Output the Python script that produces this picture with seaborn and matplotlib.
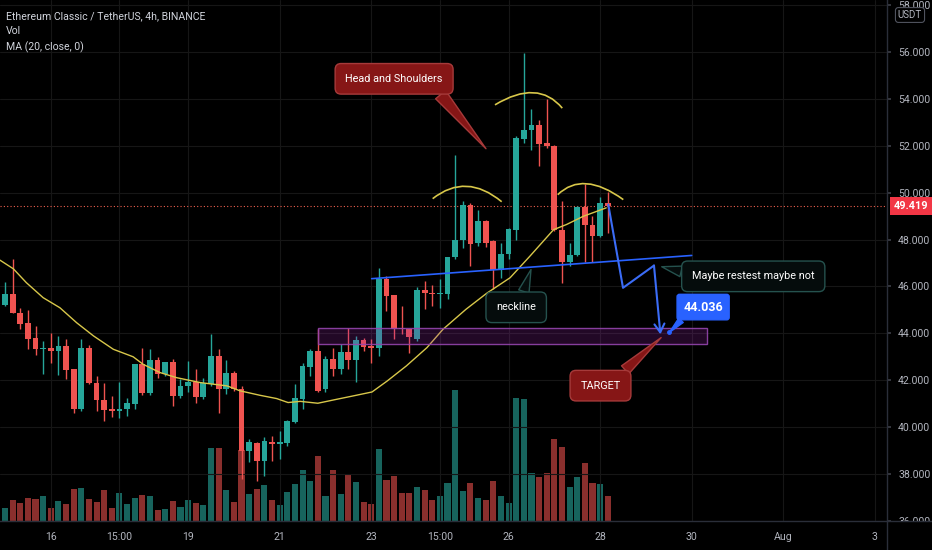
import numpy as np
import pandas as pd
import matplotlib
matplotlib.use("Agg")
import matplotlib.pyplot as plt
import matplotlib.transforms as mtransforms
from matplotlib.patches import PathPatch, Rectangle
from matplotlib.path import Path
import seaborn as sns

# ========= Data (4h candles, index 0 = first full candle on the left) =========
candle_idx = list(range(-1, 80))
opens = [46.65, 45.21, 45.66, 44.88, 44.45, 43.80, 43.32, 43.39, 43.23, 43.46,
         42.50, 40.77, 43.39, 41.90, 41.15, 40.77, 40.67, 40.77, 40.98, 42.71,
         41.45, 42.87, 42.26, 42.78, 41.33, 41.76, 41.93, 41.29, 41.83, 43.04,
         41.62, 42.30, 41.62, 38.99, 39.32, 38.57, 39.38, 39.29, 39.32, 40.20,
         41.22, 42.58, 43.25, 41.62, 42.92, 42.50, 43.21, 42.87, 43.70, 43.46,
         43.39, 46.30, 45.62, 44.24, 44.20, 43.77, 45.84, 45.73, 45.66, 45.66,
         47.26, 48.00, 49.46, 47.83, 48.81, 47.93, 46.69, 47.39, 48.42, 52.28,
         52.68, 52.89, 52.11, 52.00, 48.42, 47.03, 47.36, 49.39, 48.60, 48.14,
         49.56]
highs = [46.90, 46.18, 47.19, 45.09, 44.98, 44.31, 43.67, 44.03, 43.89, 43.77,
         42.50, 43.77, 43.49, 42.18, 41.90, 41.33, 41.94, 41.26, 42.68, 43.39,
         43.35, 43.01, 42.78, 42.92, 42.04, 42.81, 42.47, 42.11, 43.96, 43.32,
         42.87, 42.40, 41.75, 39.49, 39.35, 39.56, 39.63, 39.84, 40.30, 41.83,
         42.75, 43.32, 44.17, 43.04, 43.39, 43.53, 44.24, 43.89, 43.82, 43.75,
         46.80, 46.44, 45.62, 45.16, 44.20, 45.99, 46.23, 46.08, 46.30, 47.26,
         51.62, 49.63, 49.56, 49.27, 48.85, 48.00, 47.86, 48.50, 52.40, 55.97,
         53.56, 53.11, 53.99, 52.04, 49.63, 47.86, 49.42, 50.38, 48.99, 49.82,
         50.01]
lows = [45.10, 45.16, 44.85, 44.17, 43.32, 43.06, 42.26, 42.75, 42.21, 42.07,
        40.62, 40.70, 41.83, 40.70, 40.27, 40.45, 40.37, 40.48, 40.77, 41.36,
        41.36, 42.11, 42.18, 40.91, 41.25, 41.48, 41.01, 41.22, 41.76, 40.60,
        41.40, 41.55, 37.80, 38.50, 37.72, 37.93, 38.57, 38.64, 39.20, 40.17,
        40.77, 42.18, 41.48, 41.48, 42.18, 42.26, 42.47, 41.94, 43.25, 42.75,
        43.04, 44.95, 43.75, 43.96, 43.18, 43.68, 45.02, 45.16, 45.09, 45.45,
        47.15, 47.64, 46.86, 47.72, 47.69, 45.87, 46.37, 47.15, 48.00, 52.11,
        51.83, 51.15, 51.90, 48.35, 46.16, 46.86, 47.29, 47.03, 47.03, 48.11,
        48.28]
closes = [45.20, 45.66, 44.88, 44.38, 43.74, 43.32, 43.38, 43.25, 43.46, 42.44,
          40.77, 43.39, 41.90, 41.15, 40.74, 40.67, 40.77, 41.02, 42.68, 41.45,
          42.87, 42.26, 42.78, 41.33, 41.76, 41.93, 41.29, 41.87, 43.04, 41.62,
          42.30, 41.62, 38.98, 39.35, 38.57, 39.42, 39.29, 39.38, 40.27, 41.26,
          42.60, 43.25, 41.55, 42.92, 42.50, 43.21, 42.87, 43.70, 43.43, 43.39,
          46.33, 45.59, 44.20, 44.17, 43.85, 45.84, 45.70, 45.66, 45.70, 47.26,
          48.00, 49.46, 47.79, 48.81, 47.83, 46.72, 47.39, 48.45, 52.33, 52.65,
          52.86, 52.08, 51.97, 48.40, 47.03, 47.36, 49.39, 48.61, 48.14, 49.56,
          49.42]
volume_k = [21.7, 12.7, 21.0, 18.3, 23.3, 22.3, 25.0, 13.3, 20.0, 16.7,
            31.7, 32.7, 22.0, 19.3, 30.7, 13.3, 27.7, 16.7, 22.7, 26.0,
            25.0, 10.7, 12.3, 20.0, 14.3, 21.0, 18.3, 15.7, 72.7, 72.7,
            30.7, 19.3, 71.0, 27.3, 32.3, 36.0, 21.0, 16.0, 29.3, 37.3,
            50.7, 40.0, 65.0, 25.0, 50.7, 27.3, 46.7, 39.3, 19.3, 16.7,
            71.7, 41.0, 45.0, 28.3, 28.3, 34.3, 31.0, 21.0, 25.0, 38.3,
            131.0, 30.0, 38.3, 22.7, 21.0, 40.0, 25.0, 18.3, 123.0, 122.0,
            48.3, 44.0, 47.7, 82.3, 74.3, 34.3, 44.3, 58.3, 38.3, 36.7,
            25.0]

# MA(20, close)
ma_idx = [-0.66, 1.1, 2.8, 5.0, 7.2, 9.4, 11.6, 14.2, 16.8, 18.1, 20.3, 22.5,
          25.6, 29.1, 30.8, 33.4, 35.6, 37.1, 38.7, 41.0, 43.5, 45.6, 48.1,
          50.1, 52.6, 55.3, 57.4, 60.4, 63.1, 66.2, 68.8, 71.9, 73.6, 75.8, 78.8]
ma_val = [47.12, 46.75, 46.16, 45.52, 45.09, 44.45, 43.89, 43.32, 43.00, 42.68,
          42.33, 42.11, 41.90, 41.76, 41.55, 41.36, 41.22, 41.05, 41.10, 41.02,
          41.19, 41.33, 41.50, 41.97, 42.61, 43.39, 44.17, 45.02, 45.70, 46.37,
          47.29, 48.42, 48.64, 48.99, 49.35]

last_price = 49.419
target_price = 44.036

price_ticks = list(range(36, 60, 2))
date_tick_pos = [6, 15, 24, 36, 48, 57, 66, 78, 90, 102, 114]
date_tick_labels = ["16", "15:00", "19", "21", "23", "15:00", "26", "28", "30", "Aug", "3"]

# drawings (index, price)
zone = (41.0, 92.0, 43.56, 44.21)
neckline = ([48.06, 90.0], [46.33, 47.32])
path_x = [79.07, 81.0, 85.06]
path_y = [49.49, 45.94, 46.89]
path_end = (85.9, 43.96)
arcs = [((56.05, 49.74), (60.51, 50.27), (65.1, 49.61)),
        ((64.22, 53.74), (69.24, 54.26), (73.04, 53.60)),
        ((72.44, 49.91), (76.24, 50.38), (81.04, 49.70))]

# ========= Style =========
BG = "#000000"
GREEN = "#26a69a"
RED = "#ef5350"
TXT = "#b2b5be"
GRID = "#161616"
BORDER = "#2a2e39"
BLUE = "#2962ff"

sns.set_theme(style="dark", rc={"axes.facecolor": BG, "figure.facecolor": BG})
plt.rcParams["font.family"] = ["Roboto", "DejaVu Sans"]

df = pd.DataFrame({"idx": candle_idx, "open": opens, "high": highs,
                   "low": lows, "close": closes, "vol": volume_k})
df["up"] = df["close"] >= df["open"]
df["color"] = np.where(df["up"], GREEN, RED)

fig = plt.figure(figsize=(9.32, 5.5), dpi=100, facecolor=BG)
rect = [0, 29 / 550, 887 / 932, 521 / 550]
vol_ax = fig.add_axes(rect)
ax = fig.add_axes(rect, sharex=vol_ax)
ax.patch.set_alpha(0)
vol_ax.set_facecolor(BG)

# ========= Volume =========
vol_colors = np.where(df["up"], "#17645d", "#8a2f2d")
vol_ax.bar(df["idx"], df["vol"], width=0.8, color=vol_colors, linewidth=0)
vol_ax.set_ylim(0, 521)
vol_ax.set_yticks([])
vol_ax.tick_params(axis="x", bottom=False, labelbottom=False)
for s in vol_ax.spines.values():
    s.set_visible(False)

# ========= Candles =========
ax.vlines(df["idx"], df["low"], df["high"], colors=df["color"], lw=1, zorder=3)
body = np.maximum((df["close"] - df["open"]).abs(), 0.05)
ax.bar(df["idx"], body, bottom=np.minimum(df["open"], df["close"]), width=0.76,
       color=df["color"], linewidth=0, zorder=4)

sns.lineplot(x=ma_idx, y=ma_val, ax=ax, color="#d8c74a", lw=1, sort=False, zorder=5)

ax.axhline(last_price, color="#f0614f", lw=0.8, ls=(0, (1, 2)), zorder=2)

# ========= Drawings =========
ax.add_patch(Rectangle((zone[0], zone[2]), zone[1] - zone[0], zone[3] - zone[2],
                       fc=(0.61, 0.15, 0.69, 0.22), ec=(0.58, 0.27, 0.68, 0.9),
                       lw=1, zorder=6))

ax.plot(*neckline, color=BLUE, lw=1.2, zorder=6)
ax.plot(path_x, path_y, color="#3b6cf6", lw=1.5, zorder=6)
ax.annotate("", xy=path_end, xytext=(path_x[-1], path_y[-1]),
            arrowprops=dict(arrowstyle="->,head_length=0.5,head_width=0.3",
                            color="#3b6cf6", lw=1.5, shrinkA=0, shrinkB=0), zorder=6)

for p0, pk, p2 in arcs:
    p0, pk, p2 = map(np.array, (p0, pk, p2))
    ctrl = 2 * pk - 0.5 * (p0 + p2)
    arc_path = Path([p0, ctrl, p2], [Path.MOVETO, Path.CURVE3, Path.CURVE3])
    ax.add_patch(PathPatch(arc_path, fc="none", ec="#d8c74a", lw=1.2, zorder=6))


def callout(text, xy, xytext, fc, ec, relpos, tw=1.2):
    ax.annotate(text, xy=xy, xytext=xytext, ha="center", va="center",
                color="white", fontsize=7.8, zorder=8,
                bbox=dict(boxstyle="round,pad=0.95,rounding_size=0.55", fc=fc, ec=ec, lw=1),
                arrowprops=dict(arrowstyle=f"wedge,tail_width={tw},shrink_factor=0.5",
                                fc=fc, ec=ec, lw=1, relpos=relpos,
                                shrinkA=0, shrinkB=0))


callout("Head and Shoulders", (63.04, 51.87), (51.0, 54.85), "#861616", "#a63a3a", (0.88, 0.05))
callout("neckline", (68.94, 46.72), (67.0, 45.11), "#050c0c", "#25524e", (0.6, 0.95), 1.0)
callout("Maybe restest maybe not", (86.07, 46.84), (98.07, 46.43), "#050c0c", "#25524e", (0.03, 0.65), 1.0)
callout("TARGET", (86.0, 43.82), (78.05, 41.77), "#861616", "#a63a3a", (0.8, 0.95), 1.0)

ax.plot([87.07], [target_price], "o", color=BLUE, ms=2.5, zorder=7)
ax.annotate(f"{target_price:.3f}", xy=(87.07, target_price), xytext=(91.5, 45.12),
            ha="center", va="center", color="white", fontsize=9, fontweight="bold", zorder=8,
            bbox=dict(boxstyle="round,pad=0.5,rounding_size=0.2", fc=BLUE, ec=BLUE),
            arrowprops=dict(arrowstyle="wedge,tail_width=0.5,shrink_factor=0.5",
                            fc=BLUE, ec=BLUE, relpos=(0.12, 0.05), shrinkA=0, shrinkB=0))

# ========= Axes =========
ax.set_xlim(-0.655, 115.6)
ax.set_ylim(36.04, 58.21)
ax.set_yticks(price_ticks, [f"{p:.3f}" for p in price_ticks])
ax.yaxis.tick_right()
ax.set_xticks(date_tick_pos, date_tick_labels)
ax.tick_params(axis="y", labelcolor=TXT, color="#3a3d45", labelsize=7.6, length=3, pad=5)
ax.tick_params(axis="x", labelcolor=TXT, labelsize=7.6, length=0, pad=8)
ax.grid(True, color=GRID, lw=0.8)
ax.set_axisbelow(True)
ax.set_xlabel("")
ax.set_ylabel("")
for side in ("top", "left"):
    ax.spines[side].set_visible(False)
for side in ("right", "bottom"):
    ax.spines[side].set_color(BORDER)
    ax.spines[side].set_linewidth(1)

# price labels beyond the pane (58 / 36) are cut by the pane edges, as on TradingView
clip = mtransforms.TransformedBbox(mtransforms.Bbox([[1.0, 0.0], [1.1, 1.0]]), ax.transAxes)
for lbl in ax.get_yticklabels():
    lbl.set_clip_box(clip)
    lbl.set_clip_on(True)

fig.add_artist(plt.Line2D([rect[2], 1], [rect[1], rect[1]], transform=fig.transFigure,
                          color=BORDER, lw=1))
fig.add_artist(plt.Line2D([rect[2], rect[2]], [0, rect[1]], transform=fig.transFigure,
                          color=BORDER, lw=1))

ax.annotate(f"{last_price:.3f}", xy=(1, last_price), xycoords=("axes fraction", "data"),
            xytext=(5, 0), textcoords="offset points", ha="left", va="center",
            color="white", fontsize=7.8, fontweight="bold", annotation_clip=False, zorder=9,
            bbox=dict(boxstyle="square,pad=0.35", fc="#f23645", ec="none"))

fig.text(910 / 932, 1 - 15 / 550, "USDT", ha="center", va="center", color=TXT, fontsize=7,
         bbox=dict(boxstyle="round,pad=0.25,rounding_size=0.3", fc=BG, ec="#50535e", lw=0.8))

legend_lines = ["Ethereum Classic / TetherUS, 4h, BINANCE", "Vol", "MA (20, close, 0)"]
for i, line in enumerate(legend_lines):
    fig.text(6 / 932, 1 - (16 + 15.5 * i) / 550, line, ha="left", va="center",
             color="#d1d4dc", fontsize=7.6)

fig.savefig("out.png", dpi=100, facecolor=BG)
